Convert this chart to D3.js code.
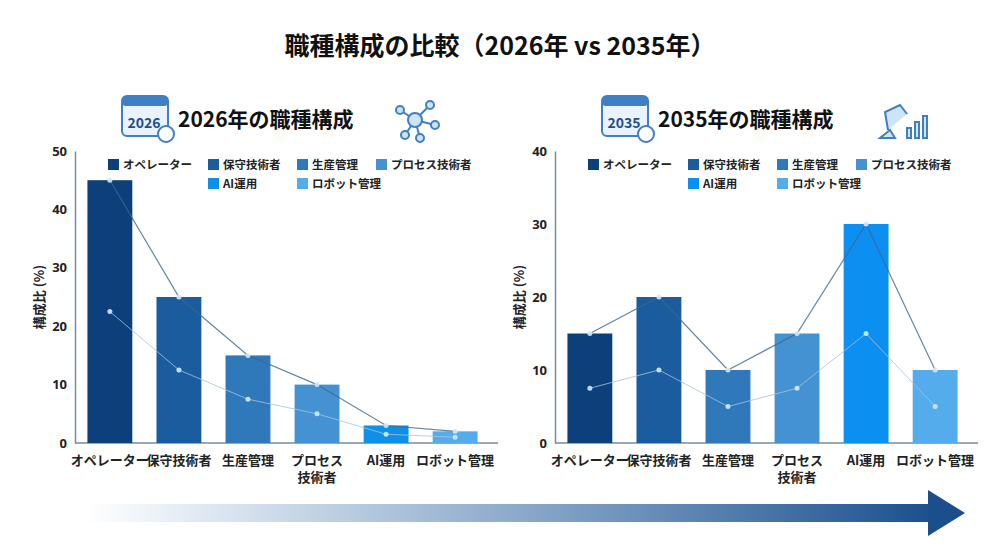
<!DOCTYPE html>
<html><head><meta charset="utf-8">
<script src="https://cdn.jsdelivr.net/npm/d3@7"></script>
<style>body{margin:0;background:#fff;font-family:"Noto Sans CJK JP","Noto Sans",sans-serif}</style>
</head><body><div class="container"></div>
<script>
const categories = ['オペレーター', '保守技術者', '生産管理', 'プロセス技術者', 'AI運用', 'ロボット管理'];
const tickLabels = [['オペレーター'], ['保守技術者'], ['生産管理'], ['プロセス', '技術者'], ['AI運用'], ['ロボット管理']];
const values2026 = [45, 25, 15, 10, 3, 2];
const values2035 = [15, 20, 10, 15, 30, 10];
const colors2026 = ['#0d3f7a', '#1b5c9e', '#2f78ba', '#4592d3', '#0f8fe6', '#55acec'];
const colors2035 = ['#0d3f7a', '#1b5c9e', '#2f78ba', '#4592d3', '#0b8ff0', '#55acec'];

const w = 1000, h = 558;
const svg = d3.select('.container').append('svg').attr('width', w).attr('height', h);
const defs = svg.append('defs');
const grad = defs.append('linearGradient').attr('id', 'arrowGrad');
grad.append('stop').attr('offset', '0%').attr('stop-color', '#1d5fa3').attr('stop-opacity', 0);
grad.append('stop').attr('offset', '100%').attr('stop-color', '#1b4f8c');

svg.append('text').attr('x', 500).attr('y', 55).attr('text-anchor', 'middle')
  .style('font-size', '25px').style('font-weight', 700).attr('fill', '#111')
  .text('職種構成の比較（2026年 vs 2035年）');

// arrow
svg.append('rect').attr('x', 85).attr('y', 504).attr('width', 850).attr('height', 18).attr('fill', 'url(#arrowGrad)');
svg.append('path').attr('d', 'M928,490 L965,513 L928,536 Z').attr('fill', '#1b4f8c');

function calIcon(g, x, y, yr) {
  const c = g.append('g').attr('transform', `translate(${x},${y})`);
  c.append('rect').attr('width', 46).attr('height', 40).attr('rx', 5).attr('fill', '#eaf3fc').attr('stroke', '#3f7fc4').attr('stroke-width', 2);
  c.append('rect').attr('width', 46).attr('height', 10).attr('rx', 4).attr('fill', '#3f7fc4');
  c.append('text').attr('x', 22).attr('y', 32).attr('text-anchor', 'middle').style('font-size', '14px').style('font-weight', 700).attr('fill', '#1d4f8c').text(yr);
  c.append('circle').attr('cx', 44).attr('cy', 38).attr('r', 8).attr('fill', '#fff').attr('stroke', '#3f7fc4').attr('stroke-width', 2);
}

function panel(x0, values, colors, maxY, ticks, year, iconKind) {
  const m = {l: x0 + 15, r: x0 + 430, t: 151, b: 443};
  const x = d3.scaleBand().domain(categories).range([m.l, m.r]).paddingInner(0.35).paddingOuter(0.18);
  const y = d3.scaleLinear().domain([0, maxY]).range([m.b, m.t]);
  const g = svg.append('g');

  calIcon(g, x0 + 62, 96, year);
  g.append('text').attr('x', x0 + 118).attr('y', 127).style('font-size', '21px').style('font-weight', 700).attr('fill', '#111').text(year + '年の職種構成');
  // decorative icon
  const ic = g.append('g').attr('transform', `translate(${x0 + 335},${100})`).attr('stroke', '#3f7fc4').attr('stroke-width', 2).attr('fill', '#cfe3f7');
  if (iconKind === 'net') {
    const pts = [[20, 20], [5, 10], [35, 5], [40, 25], [10, 35], [25, 38]];
    pts.slice(1).forEach(p => ic.append('line').attr('x1', 20).attr('y1', 20).attr('x2', p[0]).attr('y2', p[1]));
    pts.forEach((p, i) => ic.append('circle').attr('cx', p[0]).attr('cy', p[1]).attr('r', i ? 4 : 7));
  } else {
    ic.append('path').attr('d', 'M5,38 L20,38 L15,30 Z M13,30 L10,12 L25,5 L32,14');
    ic.append('rect').attr('x', 32).attr('y', 28).attr('width', 4).attr('height', 10);
    ic.append('rect').attr('x', 40).attr('y', 22).attr('width', 4).attr('height', 16);
    ic.append('rect').attr('x', 48).attr('y', 16).attr('width', 4).attr('height', 22);
  }

  // axes
  const yAxis = d3.axisLeft(y).tickValues(ticks).tickSize(0).tickPadding(8);
  const ya = g.append('g').attr('transform', `translate(${m.l},0)`).call(yAxis);
  ya.select('.domain').attr('stroke', '#7a8a9a').attr('stroke-width', 1.5);
  ya.selectAll('text').style('font-size', '13px').style('font-weight', 700).attr('fill', '#222').style('font-family', '"Noto Sans","Noto Sans CJK JP"');
  g.append('line').attr('x1', m.l).attr('x2', m.r + 8).attr('y1', m.b).attr('y2', m.b).attr('stroke', '#7a8a9a').attr('stroke-width', 1.5);
  g.append('text').attr('transform', `translate(${x0 - 16},${(m.t + m.b) / 2}) rotate(-90)`).attr('text-anchor', 'middle')
    .style('font-size', '13px').style('font-weight', 700).attr('fill', '#222').text('構成比 (%)');

  // bars
  g.selectAll('.bar').data(values).join('rect')
    .attr('x', (d, i) => x(categories[i])).attr('width', x.bandwidth())
    .attr('y', d => y(d)).attr('height', d => y(0) - y(d)).attr('fill', (d, i) => colors[i]);

  // decorative connector lines
  const cx = i => x(categories[i]) + x.bandwidth() / 2;
  const topLine = d3.line().x((d, i) => cx(i)).y(d => y(d));
  const midLine = d3.line().x((d, i) => cx(i)).y(d => y(d / 2));
  g.append('path').attr('d', topLine(values)).attr('fill', 'none').attr('stroke', '#3d6690').attr('stroke-width', 1.2).attr('opacity', 0.8);
  g.append('path').attr('d', midLine(values)).attr('fill', 'none').attr('stroke', '#a9c2dc').attr('stroke-width', 1).attr('opacity', 0.8);
  g.selectAll('.dot').data(values.flatMap((d, i) => [[i, d], [i, d / 2]])).join('circle')
    .attr('cx', d => cx(d[0])).attr('cy', d => y(d[1])).attr('r', 2.5).attr('fill', '#cfeaff').attr('opacity', 0.9);

  // x labels
  tickLabels.forEach((lines, i) => {
    const t = g.append('text').attr('x', cx(i)).attr('y', m.b + 22).attr('text-anchor', 'middle')
      .style('font-size', '13px').style('font-weight', 700).attr('fill', '#222');
    lines.forEach((s, k) => t.append('tspan').attr('x', cx(i)).attr('dy', k ? 17 : 0).text(s));
  });

  // legend
  const leg = [[0, 0], [1, 0], [2, 0], [3, 0], [1, 1], [2, 1]];
  const lx = [x0 + 48, x0 + 148, x0 + 237, x0 + 316];
  categories.forEach((c, i) => {
    const [col, row] = leg[i];
    const lg = g.append('g').attr('transform', `translate(${lx[col]},${159 + row * 19})`);
    lg.append('rect').attr('width', 11).attr('height', 11).attr('fill', colors[i]);
    lg.append('text').attr('x', 15).attr('y', 10).style('font-size', '11.5px').style('font-weight', 700).attr('fill', '#222').text(c);
  });
}

panel(60, values2026, colors2026, 50, [0, 10, 20, 30, 40, 50], '2026', 'net');
panel(540, values2035, colors2035, 40, [0, 10, 20, 30, 40], '2035', 'robot');
</script></body></html>
